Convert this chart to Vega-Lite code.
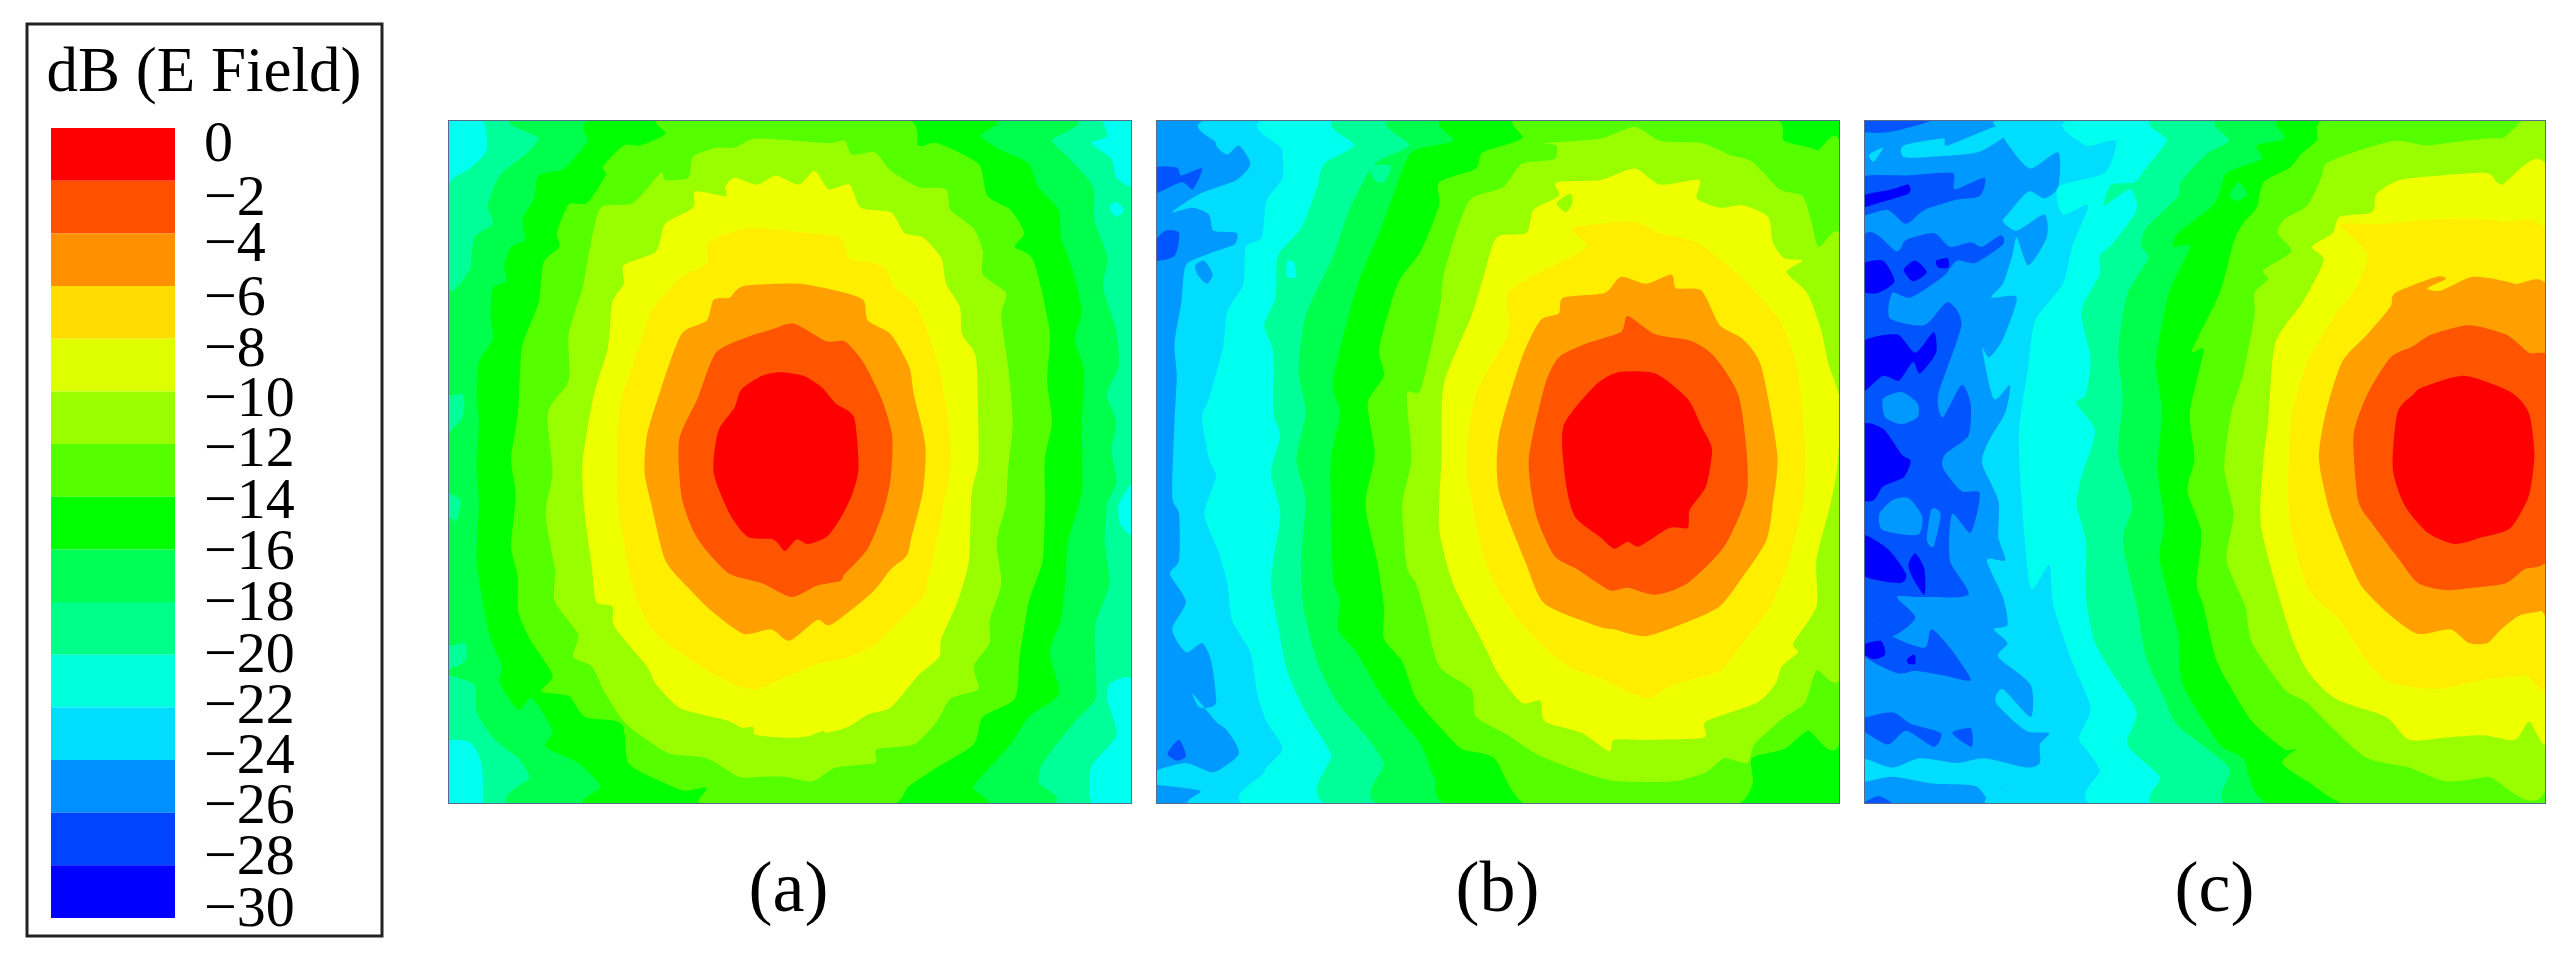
{"$schema":"https://vega.github.io/schema/vega-lite/v6.json","padding":{"left":25,"top":22,"right":0,"bottom":0},"background":"white","spacing":64,"config":{"concat":{"spacing":24},"view":{"stroke":null}},
"datasets":{
"legendBands":[{"b":0,"t":0,"u":-2,"a":24,"c":148},{"b":1,"t":-2,"u":-4,"a":24,"c":148},{"b":2,"t":-4,"u":-6,"a":24,"c":148},{"b":3,"t":-6,"u":-8,"a":24,"c":148},{"b":4,"t":-8,"u":-10,"a":24,"c":148},{"b":5,"t":-10,"u":-12,"a":24,"c":148},{"b":6,"t":-12,"u":-14,"a":24,"c":148},{"b":7,"t":-14,"u":-16,"a":24,"c":148},{"b":8,"t":-16,"u":-18,"a":24,"c":148},{"b":9,"t":-18,"u":-20,"a":24,"c":148},{"b":10,"t":-20,"u":-22,"a":24,"c":148},{"b":11,"t":-22,"u":-24,"a":24,"c":148},{"b":12,"t":-24,"u":-26,"a":24,"c":148},{"b":13,"t":-26,"u":-28,"a":24,"c":148},{"b":14,"t":-28,"u":-30,"a":24,"c":148}],
"legendLabels":[{"s":"0","x":177,"y":-0.62},{"s":"−2","x":177,"y":-2.65},{"s":"−4","x":177,"y":-4.4},{"s":"−6","x":177,"y":-6.45},{"s":"−8","x":177,"y":-8.4},{"s":"−10","x":177,"y":-10.3},{"s":"−12","x":177,"y":-12.2},{"s":"−14","x":177,"y":-14.15},{"s":"−16","x":177,"y":-16.1},{"s":"−18","x":177,"y":-18.05},{"s":"−20","x":177,"y":-20},{"s":"−22","x":177,"y":-21.95},{"s":"−24","x":177,"y":-23.85},{"s":"−26","x":177,"y":-25.75},{"s":"−28","x":177,"y":-27.7},{"s":"−30","x":177,"y":-29.65}],
"a":[
{"l":9,"p":1,"x":40,"y":47},{"l":9,"p":1,"x":1522,"y":47},{"l":9,"p":1,"x":1522,"y":1527},{"l":9,"p":1,"x":40,"y":1527},
{"l":10,"p":2,"x":30,"y":37},{"l":10,"p":2,"x":110,"y":37},{"l":10,"p":2,"x":122,"y":110},{"l":10,"p":2,"x":85,"y":150},{"l":10,"p":2,"x":50,"y":170},{"l":10,"p":2,"x":30,"y":190},
{"l":10,"p":3,"x":1462,"y":37},{"l":10,"p":3,"x":1532,"y":37},{"l":10,"p":3,"x":1532,"y":185},{"l":10,"p":3,"x":1490,"y":170},{"l":10,"p":3,"x":1480,"y":130},{"l":10,"p":3,"x":1435,"y":95},{"l":10,"p":3,"x":1470,"y":80},
{"l":10,"p":4,"x":30,"y":1400},{"l":10,"p":4,"x":85,"y":1395},{"l":10,"p":4,"x":110,"y":1440},{"l":10,"p":4,"x":110,"y":1537},{"l":10,"p":4,"x":30,"y":1537},
{"l":10,"p":5,"x":1480,"y":1265},{"l":10,"p":5,"x":1532,"y":1270},{"l":10,"p":5,"x":1532,"y":1537},{"l":10,"p":5,"x":1440,"y":1537},{"l":10,"p":5,"x":1435,"y":1450},{"l":10,"p":5,"x":1490,"y":1380},{"l":10,"p":5,"x":1470,"y":1300},
{"l":10,"p":6,"x":1530,"y":830},{"l":10,"p":6,"x":1495,"y":880},{"l":10,"p":6,"x":1500,"y":925},{"l":10,"p":6,"x":1530,"y":945},
{"l":10,"p":7,"x":1475,"y":235},{"l":10,"p":7,"x":1490,"y":222},{"l":10,"p":7,"x":1507,"y":240},{"l":10,"p":7,"x":1490,"y":255},
{"l":8,"p":8,"x":225,"y":37},{"l":8,"p":8,"x":235,"y":85},{"l":8,"p":8,"x":205,"y":120},{"l":8,"p":8,"x":150,"y":165},{"l":8,"p":8,"x":125,"y":230},{"l":8,"p":8,"x":135,"y":270},{"l":8,"p":8,"x":95,"y":300},{"l":8,"p":8,"x":85,"y":370},{"l":8,"p":8,"x":50,"y":415},{"l":8,"p":8,"x":30,"y":420},{"l":8,"p":8,"x":30,"y":630},{"l":8,"p":8,"x":70,"y":640},{"l":8,"p":8,"x":70,"y":690},{"l":8,"p":8,"x":30,"y":740},{"l":8,"p":8,"x":30,"y":840},{"l":8,"p":8,"x":65,"y":870},{"l":8,"p":8,"x":55,"y":915},{"l":8,"p":8,"x":30,"y":920},{"l":8,"p":8,"x":30,"y":1170},{"l":8,"p":8,"x":75,"y":1180},{"l":8,"p":8,"x":75,"y":1220},{"l":8,"p":8,"x":30,"y":1245},{"l":8,"p":8,"x":95,"y":1270},{"l":8,"p":8,"x":100,"y":1330},{"l":8,"p":8,"x":140,"y":1390},{"l":8,"p":8,"x":190,"y":1430},{"l":8,"p":8,"x":215,"y":1470},{"l":8,"p":8,"x":220,"y":1537},{"l":8,"p":8,"x":1300,"y":1537},{"l":8,"p":8,"x":1320,"y":1480},{"l":8,"p":8,"x":1330,"y":1440},{"l":8,"p":8,"x":1400,"y":1350},{"l":8,"p":8,"x":1445,"y":1300},{"l":8,"p":8,"x":1445,"y":1230},{"l":8,"p":8,"x":1445,"y":1140},{"l":8,"p":8,"x":1475,"y":1050},{"l":8,"p":8,"x":1465,"y":960},{"l":8,"p":8,"x":1470,"y":880},{"l":8,"p":8,"x":1490,"y":830},{"l":8,"p":8,"x":1480,"y":760},{"l":8,"p":8,"x":1490,"y":700},{"l":8,"p":8,"x":1470,"y":640},{"l":8,"p":8,"x":1495,"y":580},{"l":8,"p":8,"x":1490,"y":500},{"l":8,"p":8,"x":1462,"y":410},{"l":8,"p":8,"x":1470,"y":340},{"l":8,"p":8,"x":1442,"y":260},{"l":8,"p":8,"x":1440,"y":190},{"l":8,"p":8,"x":1390,"y":130},{"l":8,"p":8,"x":1350,"y":90},{"l":8,"p":8,"x":1350,"y":37},
{"l":7,"p":9,"x":390,"y":37},{"l":7,"p":9,"x":340,"y":95},{"l":7,"p":9,"x":290,"y":150},{"l":7,"p":9,"x":235,"y":165},{"l":7,"p":9,"x":225,"y":215},{"l":7,"p":9,"x":200,"y":260},{"l":7,"p":9,"x":205,"y":305},{"l":7,"p":9,"x":175,"y":320},{"l":7,"p":9,"x":160,"y":360},{"l":7,"p":9,"x":165,"y":395},{"l":7,"p":9,"x":135,"y":410},{"l":7,"p":9,"x":130,"y":470},{"l":7,"p":9,"x":135,"y":520},{"l":7,"p":9,"x":105,"y":570},{"l":7,"p":9,"x":100,"y":640},{"l":7,"p":9,"x":105,"y":700},{"l":7,"p":9,"x":100,"y":800},{"l":7,"p":9,"x":105,"y":880},{"l":7,"p":9,"x":100,"y":1000},{"l":7,"p":9,"x":115,"y":1100},{"l":7,"p":9,"x":130,"y":1170},{"l":7,"p":9,"x":155,"y":1230},{"l":7,"p":9,"x":150,"y":1265},{"l":7,"p":9,"x":190,"y":1325},{"l":7,"p":9,"x":220,"y":1300},{"l":7,"p":9,"x":265,"y":1370},{"l":7,"p":9,"x":250,"y":1405},{"l":7,"p":9,"x":320,"y":1440},{"l":7,"p":9,"x":370,"y":1490},{"l":7,"p":9,"x":370,"y":1537},{"l":7,"p":9,"x":1170,"y":1537},{"l":7,"p":9,"x":1180,"y":1490},{"l":7,"p":9,"x":1260,"y":1400},{"l":7,"p":9,"x":1300,"y":1340},{"l":7,"p":9,"x":1365,"y":1290},{"l":7,"p":9,"x":1345,"y":1200},{"l":7,"p":9,"x":1370,"y":1130},{"l":7,"p":9,"x":1380,"y":1040},{"l":7,"p":9,"x":1385,"y":960},{"l":7,"p":9,"x":1415,"y":850},{"l":7,"p":9,"x":1415,"y":700},{"l":7,"p":9,"x":1420,"y":590},{"l":7,"p":9,"x":1400,"y":520},{"l":7,"p":9,"x":1415,"y":460},{"l":7,"p":9,"x":1395,"y":370},{"l":7,"p":9,"x":1370,"y":300},{"l":7,"p":9,"x":1365,"y":240},{"l":7,"p":9,"x":1320,"y":190},{"l":7,"p":9,"x":1300,"y":140},{"l":7,"p":9,"x":1240,"y":110},{"l":7,"p":9,"x":1195,"y":80},{"l":7,"p":9,"x":1190,"y":37},
{"l":6,"p":10,"x":515,"y":37},{"l":6,"p":10,"x":510,"y":75},{"l":6,"p":10,"x":455,"y":100},{"l":6,"p":10,"x":420,"y":100},{"l":6,"p":10,"x":375,"y":145},{"l":6,"p":10,"x":380,"y":165},{"l":6,"p":10,"x":340,"y":225},{"l":6,"p":10,"x":300,"y":228},{"l":6,"p":10,"x":275,"y":290},{"l":6,"p":10,"x":280,"y":320},{"l":6,"p":10,"x":245,"y":355},{"l":6,"p":10,"x":235,"y":440},{"l":6,"p":10,"x":200,"y":530},{"l":6,"p":10,"x":195,"y":580},{"l":6,"p":10,"x":190,"y":680},{"l":6,"p":10,"x":175,"y":780},{"l":6,"p":10,"x":185,"y":860},{"l":6,"p":10,"x":175,"y":970},{"l":6,"p":10,"x":190,"y":1040},{"l":6,"p":10,"x":190,"y":1110},{"l":6,"p":10,"x":215,"y":1170},{"l":6,"p":10,"x":265,"y":1250},{"l":6,"p":10,"x":240,"y":1285},{"l":6,"p":10,"x":300,"y":1295},{"l":6,"p":10,"x":335,"y":1340},{"l":6,"p":10,"x":415,"y":1355},{"l":6,"p":10,"x":430,"y":1440},{"l":6,"p":10,"x":500,"y":1480},{"l":6,"p":10,"x":550,"y":1500},{"l":6,"p":10,"x":600,"y":1495},{"l":6,"p":10,"x":600,"y":1537},{"l":6,"p":10,"x":980,"y":1537},{"l":6,"p":10,"x":1040,"y":1490},{"l":6,"p":10,"x":1100,"y":1450},{"l":6,"p":10,"x":1180,"y":1400},{"l":6,"p":10,"x":1200,"y":1340},{"l":6,"p":10,"x":1270,"y":1300},{"l":6,"p":10,"x":1280,"y":1210},{"l":6,"p":10,"x":1300,"y":1090},{"l":6,"p":10,"x":1330,"y":1000},{"l":6,"p":10,"x":1335,"y":880},{"l":6,"p":10,"x":1335,"y":780},{"l":6,"p":10,"x":1350,"y":700},{"l":6,"p":10,"x":1340,"y":610},{"l":6,"p":10,"x":1345,"y":500},{"l":6,"p":10,"x":1310,"y":350},{"l":6,"p":10,"x":1270,"y":320},{"l":6,"p":10,"x":1290,"y":290},{"l":6,"p":10,"x":1260,"y":240},{"l":6,"p":10,"x":1210,"y":210},{"l":6,"p":10,"x":1190,"y":140},{"l":6,"p":10,"x":1100,"y":95},{"l":6,"p":10,"x":1060,"y":100},{"l":6,"p":10,"x":1015,"y":37},
{"l":5,"p":11,"x":660,"y":105},{"l":5,"p":11,"x":710,"y":85},{"l":5,"p":11,"x":860,"y":95},{"l":5,"p":11,"x":900,"y":90},{"l":5,"p":11,"x":915,"y":120},{"l":5,"p":11,"x":965,"y":115},{"l":5,"p":11,"x":1000,"y":155},{"l":5,"p":11,"x":1060,"y":190},{"l":5,"p":11,"x":1120,"y":195},{"l":5,"p":11,"x":1130,"y":240},{"l":5,"p":11,"x":1180,"y":280},{"l":5,"p":11,"x":1200,"y":330},{"l":5,"p":11,"x":1200,"y":380},{"l":5,"p":11,"x":1250,"y":420},{"l":5,"p":11,"x":1240,"y":470},{"l":5,"p":11,"x":1255,"y":580},{"l":5,"p":11,"x":1265,"y":700},{"l":5,"p":11,"x":1255,"y":800},{"l":5,"p":11,"x":1250,"y":880},{"l":5,"p":11,"x":1230,"y":960},{"l":5,"p":11,"x":1240,"y":1050},{"l":5,"p":11,"x":1215,"y":1130},{"l":5,"p":11,"x":1215,"y":1180},{"l":5,"p":11,"x":1180,"y":1230},{"l":5,"p":11,"x":1190,"y":1280},{"l":5,"p":11,"x":1130,"y":1300},{"l":5,"p":11,"x":1100,"y":1350},{"l":5,"p":11,"x":1050,"y":1400},{"l":5,"p":11,"x":970,"y":1410},{"l":5,"p":11,"x":965,"y":1440},{"l":5,"p":11,"x":880,"y":1450},{"l":5,"p":11,"x":830,"y":1480},{"l":5,"p":11,"x":770,"y":1470},{"l":5,"p":11,"x":720,"y":1470},{"l":5,"p":11,"x":670,"y":1470},{"l":5,"p":11,"x":600,"y":1430},{"l":5,"p":11,"x":520,"y":1420},{"l":5,"p":11,"x":470,"y":1390},{"l":5,"p":11,"x":420,"y":1350},{"l":5,"p":11,"x":380,"y":1290},{"l":5,"p":11,"x":350,"y":1230},{"l":5,"p":11,"x":310,"y":1210},{"l":5,"p":11,"x":320,"y":1160},{"l":5,"p":11,"x":270,"y":1090},{"l":5,"p":11,"x":270,"y":1020},{"l":5,"p":11,"x":250,"y":900},{"l":5,"p":11,"x":265,"y":810},{"l":5,"p":11,"x":255,"y":680},{"l":5,"p":11,"x":300,"y":610},{"l":5,"p":11,"x":300,"y":510},{"l":5,"p":11,"x":330,"y":410},{"l":5,"p":11,"x":345,"y":330},{"l":5,"p":11,"x":370,"y":235},{"l":5,"p":11,"x":440,"y":225},{"l":5,"p":11,"x":500,"y":160},{"l":5,"p":11,"x":510,"y":175},{"l":5,"p":11,"x":560,"y":170},{"l":5,"p":11,"x":570,"y":125},{"l":5,"p":11,"x":620,"y":105},
{"l":4,"p":12,"x":640,"y":190},{"l":4,"p":12,"x":660,"y":170},{"l":4,"p":12,"x":710,"y":185},{"l":4,"p":12,"x":750,"y":165},{"l":4,"p":12,"x":800,"y":185},{"l":4,"p":12,"x":835,"y":155},{"l":4,"p":12,"x":865,"y":195},{"l":4,"p":12,"x":910,"y":185},{"l":4,"p":12,"x":935,"y":235},{"l":4,"p":12,"x":1000,"y":245},{"l":4,"p":12,"x":1030,"y":290},{"l":4,"p":12,"x":1070,"y":300},{"l":4,"p":12,"x":1110,"y":345},{"l":4,"p":12,"x":1120,"y":400},{"l":4,"p":12,"x":1150,"y":450},{"l":4,"p":12,"x":1155,"y":510},{"l":4,"p":12,"x":1185,"y":560},{"l":4,"p":12,"x":1190,"y":700},{"l":4,"p":12,"x":1190,"y":790},{"l":4,"p":12,"x":1175,"y":860},{"l":4,"p":12,"x":1170,"y":1000},{"l":4,"p":12,"x":1145,"y":1090},{"l":4,"p":12,"x":1110,"y":1170},{"l":4,"p":12,"x":1105,"y":1210},{"l":4,"p":12,"x":1060,"y":1250},{"l":4,"p":12,"x":1000,"y":1320},{"l":4,"p":12,"x":950,"y":1335},{"l":4,"p":12,"x":900,"y":1365},{"l":4,"p":12,"x":800,"y":1385},{"l":4,"p":12,"x":710,"y":1380},{"l":4,"p":12,"x":650,"y":1350},{"l":4,"p":12,"x":590,"y":1335},{"l":4,"p":12,"x":540,"y":1320},{"l":4,"p":12,"x":490,"y":1270},{"l":4,"p":12,"x":470,"y":1230},{"l":4,"p":12,"x":400,"y":1145},{"l":4,"p":12,"x":395,"y":1100},{"l":4,"p":12,"x":360,"y":1090},{"l":4,"p":12,"x":350,"y":1010},{"l":4,"p":12,"x":335,"y":900},{"l":4,"p":12,"x":330,"y":790},{"l":4,"p":12,"x":355,"y":640},{"l":4,"p":12,"x":385,"y":540},{"l":4,"p":12,"x":395,"y":440},{"l":4,"p":12,"x":420,"y":400},{"l":4,"p":12,"x":420,"y":360},{"l":4,"p":12,"x":490,"y":330},{"l":4,"p":12,"x":510,"y":270},{"l":4,"p":12,"x":570,"y":235},{"l":4,"p":12,"x":575,"y":200},{"l":4,"p":12,"x":640,"y":210},
{"l":5,"p":13,"x":665,"y":1370},{"l":5,"p":13,"x":700,"y":1362},{"l":5,"p":13,"x":700,"y":1380},{"l":5,"p":13,"x":680,"y":1395},
{"l":5,"p":14,"x":820,"y":1385},{"l":5,"p":14,"x":855,"y":1370},{"l":5,"p":14,"x":850,"y":1392},
{"l":3,"p":15,"x":605,"y":310},{"l":3,"p":15,"x":690,"y":280},{"l":3,"p":15,"x":820,"y":290},{"l":3,"p":15,"x":890,"y":300},{"l":3,"p":15,"x":910,"y":345},{"l":3,"p":15,"x":960,"y":355},{"l":3,"p":15,"x":990,"y":370},{"l":3,"p":15,"x":1010,"y":410},{"l":3,"p":15,"x":1050,"y":440},{"l":3,"p":15,"x":1075,"y":490},{"l":3,"p":15,"x":1105,"y":580},{"l":3,"p":15,"x":1125,"y":700},{"l":3,"p":15,"x":1130,"y":790},{"l":3,"p":15,"x":1115,"y":880},{"l":3,"p":15,"x":1090,"y":1000},{"l":3,"p":15,"x":1070,"y":1080},{"l":3,"p":15,"x":1040,"y":1110},{"l":3,"p":15,"x":970,"y":1180},{"l":3,"p":15,"x":910,"y":1210},{"l":3,"p":15,"x":840,"y":1225},{"l":3,"p":15,"x":780,"y":1250},{"l":3,"p":15,"x":700,"y":1280},{"l":3,"p":15,"x":620,"y":1250},{"l":3,"p":15,"x":530,"y":1190},{"l":3,"p":15,"x":480,"y":1150},{"l":3,"p":15,"x":440,"y":1060},{"l":3,"p":15,"x":410,"y":900},{"l":3,"p":15,"x":405,"y":780},{"l":3,"p":15,"x":415,"y":650},{"l":3,"p":15,"x":460,"y":520},{"l":3,"p":15,"x":480,"y":460},{"l":3,"p":15,"x":540,"y":390},{"l":3,"p":15,"x":600,"y":355},
{"l":2,"p":16,"x":680,"y":405},{"l":2,"p":16,"x":800,"y":400},{"l":2,"p":16,"x":880,"y":415},{"l":2,"p":16,"x":940,"y":435},{"l":2,"p":16,"x":950,"y":480},{"l":2,"p":16,"x":1000,"y":510},{"l":2,"p":16,"x":1040,"y":580},{"l":2,"p":16,"x":1050,"y":640},{"l":2,"p":16,"x":1075,"y":750},{"l":2,"p":16,"x":1070,"y":850},{"l":2,"p":16,"x":1045,"y":950},{"l":2,"p":16,"x":1035,"y":990},{"l":2,"p":16,"x":1000,"y":1020},{"l":2,"p":16,"x":960,"y":1070},{"l":2,"p":16,"x":870,"y":1140},{"l":2,"p":16,"x":840,"y":1130},{"l":2,"p":16,"x":780,"y":1175},{"l":2,"p":16,"x":740,"y":1150},{"l":2,"p":16,"x":680,"y":1160},{"l":2,"p":16,"x":610,"y":1110},{"l":2,"p":16,"x":560,"y":1060},{"l":2,"p":16,"x":510,"y":1000},{"l":2,"p":16,"x":480,"y":880},{"l":2,"p":16,"x":465,"y":810},{"l":2,"p":16,"x":470,"y":730},{"l":2,"p":16,"x":500,"y":630},{"l":2,"p":16,"x":545,"y":510},{"l":2,"p":16,"x":600,"y":480},{"l":2,"p":16,"x":615,"y":435},{"l":2,"p":16,"x":650,"y":430},
{"l":1,"p":17,"x":790,"y":487},{"l":1,"p":17,"x":860,"y":525},{"l":1,"p":17,"x":900,"y":525},{"l":1,"p":17,"x":940,"y":570},{"l":1,"p":17,"x":980,"y":650},{"l":1,"p":17,"x":1003,"y":730},{"l":1,"p":17,"x":1000,"y":820},{"l":1,"p":17,"x":985,"y":890},{"l":1,"p":17,"x":950,"y":975},{"l":1,"p":17,"x":900,"y":1030},{"l":1,"p":17,"x":890,"y":1045},{"l":1,"p":17,"x":840,"y":1055},{"l":1,"p":17,"x":785,"y":1080},{"l":1,"p":17,"x":720,"y":1050},{"l":1,"p":17,"x":650,"y":1030},{"l":1,"p":17,"x":600,"y":980},{"l":1,"p":17,"x":570,"y":935},{"l":1,"p":17,"x":545,"y":860},{"l":1,"p":17,"x":540,"y":740},{"l":1,"p":17,"x":580,"y":650},{"l":1,"p":17,"x":620,"y":550},{"l":1,"p":17,"x":690,"y":515},{"l":1,"p":17,"x":740,"y":500},
{"l":0,"p":18,"x":760,"y":592},{"l":0,"p":18,"x":810,"y":600},{"l":0,"p":18,"x":850,"y":625},{"l":0,"p":18,"x":880,"y":660},{"l":0,"p":18,"x":920,"y":690},{"l":0,"p":18,"x":930,"y":800},{"l":0,"p":18,"x":915,"y":860},{"l":0,"p":18,"x":890,"y":910},{"l":0,"p":18,"x":860,"y":950},{"l":0,"p":18,"x":820,"y":965},{"l":0,"p":18,"x":795,"y":955},{"l":0,"p":18,"x":770,"y":980},{"l":0,"p":18,"x":745,"y":955},{"l":0,"p":18,"x":690,"y":950},{"l":0,"p":18,"x":650,"y":900},{"l":0,"p":18,"x":615,"y":810},{"l":0,"p":18,"x":625,"y":720},{"l":0,"p":18,"x":660,"y":670},{"l":0,"p":18,"x":675,"y":630},{"l":0,"p":18,"x":720,"y":600}
],
"b":[
{"l":12,"p":1,"x":20,"y":30},{"l":12,"p":1,"x":1540,"y":30},{"l":12,"p":1,"x":1540,"y":1545},{"l":12,"p":1,"x":20,"y":1545},
{"l":13,"p":2,"x":27,"y":150},{"l":13,"p":2,"x":80,"y":148},{"l":13,"p":2,"x":90,"y":165},{"l":13,"p":2,"x":135,"y":150},{"l":13,"p":2,"x":115,"y":195},{"l":13,"p":2,"x":90,"y":180},{"l":13,"p":2,"x":27,"y":205},
{"l":13,"p":3,"x":27,"y":315},{"l":13,"p":3,"x":55,"y":285},{"l":13,"p":3,"x":85,"y":290},{"l":13,"p":3,"x":75,"y":340},{"l":13,"p":3,"x":27,"y":350},
{"l":13,"p":4,"x":60,"y":1420},{"l":13,"p":4,"x":85,"y":1390},{"l":13,"p":4,"x":100,"y":1425},{"l":13,"p":4,"x":80,"y":1435},
{"l":11,"p":5,"x":210,"y":37},{"l":11,"p":5,"x":165,"y":95},{"l":11,"p":5,"x":190,"y":120},{"l":11,"p":5,"x":215,"y":100},{"l":11,"p":5,"x":240,"y":140},{"l":11,"p":5,"x":210,"y":175},{"l":11,"p":5,"x":130,"y":205},{"l":11,"p":5,"x":70,"y":245},{"l":11,"p":5,"x":115,"y":235},{"l":11,"p":5,"x":150,"y":250},{"l":11,"p":5,"x":160,"y":285},{"l":11,"p":5,"x":210,"y":290},{"l":11,"p":5,"x":205,"y":315},{"l":11,"p":5,"x":150,"y":335},{"l":11,"p":5,"x":100,"y":360},{"l":11,"p":5,"x":90,"y":440},{"l":11,"p":5,"x":75,"y":530},{"l":11,"p":5,"x":80,"y":600},{"l":11,"p":5,"x":75,"y":700},{"l":11,"p":5,"x":70,"y":860},{"l":11,"p":5,"x":85,"y":900},{"l":11,"p":5,"x":85,"y":1000},{"l":11,"p":5,"x":65,"y":1030},{"l":11,"p":5,"x":100,"y":1090},{"l":11,"p":5,"x":70,"y":1150},{"l":11,"p":5,"x":100,"y":1200},{"l":11,"p":5,"x":135,"y":1180},{"l":11,"p":5,"x":155,"y":1220},{"l":11,"p":5,"x":165,"y":1310},{"l":11,"p":5,"x":130,"y":1320},{"l":11,"p":5,"x":115,"y":1290},{"l":11,"p":5,"x":165,"y":1350},{"l":11,"p":5,"x":190,"y":1370},{"l":11,"p":5,"x":215,"y":1420},{"l":11,"p":5,"x":160,"y":1460},{"l":11,"p":5,"x":100,"y":1440},{"l":11,"p":5,"x":27,"y":1460},{"l":11,"p":5,"x":27,"y":1485},{"l":11,"p":5,"x":130,"y":1500},{"l":11,"p":5,"x":190,"y":1540},{"l":11,"p":5,"x":1540,"y":1540},{"l":11,"p":5,"x":1540,"y":37},
{"l":12,"p":6,"x":120,"y":360},{"l":12,"p":6,"x":140,"y":350},{"l":12,"p":6,"x":158,"y":380},{"l":12,"p":6,"x":145,"y":400},{"l":12,"p":6,"x":125,"y":380},
{"l":10,"p":7,"x":320,"y":37},{"l":10,"p":7,"x":310,"y":110},{"l":10,"p":7,"x":310,"y":170},{"l":10,"p":7,"x":275,"y":220},{"l":10,"p":7,"x":265,"y":300},{"l":10,"p":7,"x":230,"y":320},{"l":10,"p":7,"x":225,"y":400},{"l":10,"p":7,"x":190,"y":460},{"l":10,"p":7,"x":180,"y":540},{"l":10,"p":7,"x":150,"y":650},{"l":10,"p":7,"x":135,"y":690},{"l":10,"p":7,"x":150,"y":780},{"l":10,"p":7,"x":165,"y":820},{"l":10,"p":7,"x":140,"y":900},{"l":10,"p":7,"x":170,"y":980},{"l":10,"p":7,"x":190,"y":1050},{"l":10,"p":7,"x":200,"y":1130},{"l":10,"p":7,"x":240,"y":1200},{"l":10,"p":7,"x":255,"y":1290},{"l":10,"p":7,"x":275,"y":1350},{"l":10,"p":7,"x":310,"y":1410},{"l":10,"p":7,"x":270,"y":1460},{"l":10,"p":7,"x":285,"y":1540},{"l":10,"p":7,"x":1540,"y":1540},{"l":10,"p":7,"x":1540,"y":37},
{"l":9,"p":8,"x":470,"y":37},{"l":9,"p":8,"x":465,"y":100},{"l":9,"p":8,"x":400,"y":140},{"l":9,"p":8,"x":385,"y":190},{"l":9,"p":8,"x":350,"y":280},{"l":9,"p":8,"x":300,"y":340},{"l":9,"p":8,"x":295,"y":430},{"l":9,"p":8,"x":270,"y":490},{"l":9,"p":8,"x":290,"y":550},{"l":9,"p":8,"x":290,"y":680},{"l":9,"p":8,"x":305,"y":730},{"l":9,"p":8,"x":285,"y":810},{"l":9,"p":8,"x":305,"y":900},{"l":9,"p":8,"x":290,"y":1000},{"l":9,"p":8,"x":285,"y":1060},{"l":9,"p":8,"x":300,"y":1140},{"l":9,"p":8,"x":320,"y":1240},{"l":9,"p":8,"x":360,"y":1330},{"l":9,"p":8,"x":415,"y":1420},{"l":9,"p":8,"x":450,"y":1540},{"l":9,"p":8,"x":1540,"y":1540},{"l":9,"p":8,"x":1540,"y":37},
{"l":10,"p":9,"x":320,"y":350},{"l":10,"p":9,"x":335,"y":355},{"l":10,"p":9,"x":340,"y":385},{"l":10,"p":9,"x":318,"y":385},
{"l":8,"p":10,"x":580,"y":37},{"l":8,"p":10,"x":585,"y":100},{"l":8,"p":10,"x":510,"y":140},{"l":8,"p":10,"x":455,"y":240},{"l":8,"p":10,"x":420,"y":340},{"l":8,"p":10,"x":360,"y":470},{"l":8,"p":10,"x":345,"y":590},{"l":8,"p":10,"x":360,"y":680},{"l":8,"p":10,"x":340,"y":780},{"l":8,"p":10,"x":360,"y":870},{"l":8,"p":10,"x":350,"y":1000},{"l":8,"p":10,"x":355,"y":1100},{"l":8,"p":10,"x":385,"y":1220},{"l":8,"p":10,"x":430,"y":1310},{"l":8,"p":10,"x":490,"y":1380},{"l":8,"p":10,"x":530,"y":1440},{"l":8,"p":10,"x":560,"y":1540},{"l":8,"p":10,"x":1540,"y":1540},{"l":8,"p":10,"x":1540,"y":37},
{"l":9,"p":11,"x":500,"y":145},{"l":9,"p":11,"x":545,"y":145},{"l":9,"p":11,"x":530,"y":180},{"l":9,"p":11,"x":510,"y":175},
{"l":7,"p":12,"x":690,"y":37},{"l":7,"p":12,"x":680,"y":90},{"l":7,"p":12,"x":590,"y":115},{"l":7,"p":12,"x":550,"y":210},{"l":7,"p":12,"x":520,"y":290},{"l":7,"p":12,"x":470,"y":410},{"l":7,"p":12,"x":420,"y":610},{"l":7,"p":12,"x":435,"y":680},{"l":7,"p":12,"x":415,"y":780},{"l":7,"p":12,"x":415,"y":900},{"l":7,"p":12,"x":420,"y":1040},{"l":7,"p":12,"x":435,"y":1090},{"l":7,"p":12,"x":430,"y":1150},{"l":7,"p":12,"x":470,"y":1200},{"l":7,"p":12,"x":530,"y":1300},{"l":7,"p":12,"x":610,"y":1400},{"l":7,"p":12,"x":640,"y":1470},{"l":7,"p":12,"x":710,"y":1540},{"l":7,"p":12,"x":1445,"y":1540},{"l":7,"p":12,"x":1530,"y":1465},{"l":7,"p":12,"x":1530,"y":100},{"l":7,"p":12,"x":1470,"y":37},
{"l":6,"p":13,"x":835,"y":37},{"l":6,"p":13,"x":830,"y":85},{"l":6,"p":13,"x":745,"y":115},{"l":6,"p":13,"x":730,"y":150},{"l":6,"p":13,"x":650,"y":180},{"l":6,"p":13,"x":650,"y":230},{"l":6,"p":13,"x":610,"y":330},{"l":6,"p":13,"x":560,"y":400},{"l":6,"p":13,"x":520,"y":540},{"l":6,"p":13,"x":530,"y":600},{"l":6,"p":13,"x":495,"y":660},{"l":6,"p":13,"x":510,"y":770},{"l":6,"p":13,"x":490,"y":880},{"l":6,"p":13,"x":515,"y":1000},{"l":6,"p":13,"x":530,"y":1100},{"l":6,"p":13,"x":530,"y":1170},{"l":6,"p":13,"x":570,"y":1220},{"l":6,"p":13,"x":600,"y":1300},{"l":6,"p":13,"x":650,"y":1360},{"l":6,"p":13,"x":700,"y":1410},{"l":6,"p":13,"x":770,"y":1430},{"l":6,"p":13,"x":860,"y":1540},{"l":6,"p":13,"x":1265,"y":1540},{"l":6,"p":13,"x":1330,"y":1490},{"l":6,"p":13,"x":1330,"y":1430},{"l":6,"p":13,"x":1400,"y":1410},{"l":6,"p":13,"x":1450,"y":1370},{"l":6,"p":13,"x":1530,"y":1345},{"l":6,"p":13,"x":1530,"y":155},{"l":6,"p":13,"x":1470,"y":110},{"l":6,"p":13,"x":1400,"y":90},{"l":6,"p":13,"x":1355,"y":37},
{"l":5,"p":14,"x":880,"y":95},{"l":5,"p":14,"x":1000,"y":85},{"l":5,"p":14,"x":1075,"y":60},{"l":5,"p":14,"x":1130,"y":90},{"l":5,"p":14,"x":1220,"y":95},{"l":5,"p":14,"x":1280,"y":120},{"l":5,"p":14,"x":1330,"y":135},{"l":5,"p":14,"x":1390,"y":195},{"l":5,"p":14,"x":1440,"y":210},{"l":5,"p":14,"x":1460,"y":270},{"l":5,"p":14,"x":1475,"y":320},{"l":5,"p":14,"x":1530,"y":335},{"l":5,"p":14,"x":1530,"y":1215},{"l":5,"p":14,"x":1470,"y":1240},{"l":5,"p":14,"x":1445,"y":1310},{"l":5,"p":14,"x":1395,"y":1345},{"l":5,"p":14,"x":1335,"y":1400},{"l":5,"p":14,"x":1320,"y":1440},{"l":5,"p":14,"x":1270,"y":1430},{"l":5,"p":14,"x":1230,"y":1460},{"l":5,"p":14,"x":1160,"y":1480},{"l":5,"p":14,"x":1040,"y":1480},{"l":5,"p":14,"x":960,"y":1460},{"l":5,"p":14,"x":860,"y":1420},{"l":5,"p":14,"x":800,"y":1380},{"l":5,"p":14,"x":730,"y":1340},{"l":5,"p":14,"x":720,"y":1280},{"l":5,"p":14,"x":650,"y":1230},{"l":5,"p":14,"x":620,"y":1120},{"l":5,"p":14,"x":600,"y":1050},{"l":5,"p":14,"x":580,"y":1015},{"l":5,"p":14,"x":570,"y":880},{"l":5,"p":14,"x":590,"y":780},{"l":5,"p":14,"x":580,"y":640},{"l":5,"p":14,"x":610,"y":630},{"l":5,"p":14,"x":650,"y":460},{"l":5,"p":14,"x":660,"y":380},{"l":5,"p":14,"x":690,"y":280},{"l":5,"p":14,"x":720,"y":215},{"l":5,"p":14,"x":790,"y":190},{"l":5,"p":14,"x":830,"y":140},{"l":5,"p":14,"x":900,"y":130},{"l":5,"p":14,"x":905,"y":100},
{"l":4,"p":15,"x":905,"y":180},{"l":4,"p":15,"x":1000,"y":175},{"l":4,"p":15,"x":1075,"y":150},{"l":4,"p":15,"x":1130,"y":185},{"l":4,"p":15,"x":1215,"y":175},{"l":4,"p":15,"x":1210,"y":215},{"l":4,"p":15,"x":1260,"y":235},{"l":4,"p":15,"x":1310,"y":230},{"l":4,"p":15,"x":1365,"y":255},{"l":4,"p":15,"x":1375,"y":310},{"l":4,"p":15,"x":1400,"y":345},{"l":4,"p":15,"x":1440,"y":350},{"l":4,"p":15,"x":1405,"y":375},{"l":4,"p":15,"x":1450,"y":420},{"l":4,"p":15,"x":1480,"y":500},{"l":4,"p":15,"x":1495,"y":570},{"l":4,"p":15,"x":1522,"y":660},{"l":4,"p":15,"x":1515,"y":800},{"l":4,"p":15,"x":1500,"y":880},{"l":4,"p":15,"x":1470,"y":1000},{"l":4,"p":15,"x":1470,"y":1100},{"l":4,"p":15,"x":1420,"y":1180},{"l":4,"p":15,"x":1430,"y":1200},{"l":4,"p":15,"x":1395,"y":1230},{"l":4,"p":15,"x":1380,"y":1270},{"l":4,"p":15,"x":1340,"y":1310},{"l":4,"p":15,"x":1230,"y":1350},{"l":4,"p":15,"x":1225,"y":1385},{"l":4,"p":15,"x":1100,"y":1390},{"l":4,"p":15,"x":1030,"y":1390},{"l":4,"p":15,"x":1020,"y":1415},{"l":4,"p":15,"x":960,"y":1375},{"l":4,"p":15,"x":880,"y":1350},{"l":4,"p":15,"x":870,"y":1305},{"l":4,"p":15,"x":830,"y":1310},{"l":4,"p":15,"x":780,"y":1250},{"l":4,"p":15,"x":755,"y":1200},{"l":4,"p":15,"x":730,"y":1150},{"l":4,"p":15,"x":680,"y":1050},{"l":4,"p":15,"x":650,"y":930},{"l":4,"p":15,"x":655,"y":780},{"l":4,"p":15,"x":660,"y":620},{"l":4,"p":15,"x":720,"y":470},{"l":4,"p":15,"x":745,"y":390},{"l":4,"p":15,"x":775,"y":300},{"l":4,"p":15,"x":840,"y":290},{"l":4,"p":15,"x":855,"y":240},{"l":4,"p":15,"x":910,"y":210},
{"l":5,"p":16,"x":905,"y":225},{"l":5,"p":16,"x":935,"y":205},{"l":5,"p":16,"x":940,"y":225},{"l":5,"p":16,"x":925,"y":245},
{"l":3,"p":17,"x":940,"y":280},{"l":3,"p":17,"x":1070,"y":265},{"l":3,"p":17,"x":1130,"y":290},{"l":3,"p":17,"x":1210,"y":310},{"l":3,"p":17,"x":1270,"y":355},{"l":3,"p":17,"x":1310,"y":390},{"l":3,"p":17,"x":1390,"y":480},{"l":3,"p":17,"x":1430,"y":590},{"l":3,"p":17,"x":1445,"y":760},{"l":3,"p":17,"x":1440,"y":880},{"l":3,"p":17,"x":1410,"y":1000},{"l":3,"p":17,"x":1370,"y":1100},{"l":3,"p":17,"x":1310,"y":1180},{"l":3,"p":17,"x":1260,"y":1240},{"l":3,"p":17,"x":1160,"y":1270},{"l":3,"p":17,"x":1100,"y":1300},{"l":3,"p":17,"x":1010,"y":1260},{"l":3,"p":17,"x":930,"y":1230},{"l":3,"p":17,"x":860,"y":1170},{"l":3,"p":17,"x":800,"y":1100},{"l":3,"p":17,"x":750,"y":1000},{"l":3,"p":17,"x":710,"y":800},{"l":3,"p":17,"x":730,"y":640},{"l":3,"p":17,"x":800,"y":510},{"l":3,"p":17,"x":800,"y":420},{"l":3,"p":17,"x":880,"y":370},{"l":3,"p":17,"x":970,"y":320},
{"l":2,"p":18,"x":920,"y":430},{"l":2,"p":18,"x":1010,"y":420},{"l":2,"p":18,"x":1045,"y":385},{"l":2,"p":18,"x":1100,"y":400},{"l":2,"p":18,"x":1155,"y":380},{"l":2,"p":18,"x":1165,"y":410},{"l":2,"p":18,"x":1220,"y":415},{"l":2,"p":18,"x":1260,"y":490},{"l":2,"p":18,"x":1310,"y":520},{"l":2,"p":18,"x":1350,"y":580},{"l":2,"p":18,"x":1385,"y":770},{"l":2,"p":18,"x":1375,"y":880},{"l":2,"p":18,"x":1360,"y":960},{"l":2,"p":18,"x":1300,"y":1050},{"l":2,"p":18,"x":1260,"y":1100},{"l":2,"p":18,"x":1200,"y":1130},{"l":2,"p":18,"x":1100,"y":1165},{"l":2,"p":18,"x":1030,"y":1150},{"l":2,"p":18,"x":1000,"y":1145},{"l":2,"p":18,"x":880,"y":1095},{"l":2,"p":18,"x":840,"y":1010},{"l":2,"p":18,"x":780,"y":850},{"l":2,"p":18,"x":780,"y":730},{"l":2,"p":18,"x":830,"y":560},{"l":2,"p":18,"x":870,"y":480},{"l":2,"p":18,"x":910,"y":465},
{"l":1,"p":19,"x":1060,"y":470},{"l":1,"p":19,"x":1120,"y":510},{"l":1,"p":19,"x":1200,"y":525},{"l":1,"p":19,"x":1250,"y":560},{"l":1,"p":19,"x":1300,"y":640},{"l":1,"p":19,"x":1318,"y":760},{"l":1,"p":19,"x":1318,"y":860},{"l":1,"p":19,"x":1270,"y":970},{"l":1,"p":19,"x":1190,"y":1050},{"l":1,"p":19,"x":1120,"y":1075},{"l":1,"p":19,"x":1060,"y":1060},{"l":1,"p":19,"x":1020,"y":1065},{"l":1,"p":19,"x":950,"y":1020},{"l":1,"p":19,"x":900,"y":990},{"l":1,"p":19,"x":860,"y":900},{"l":1,"p":19,"x":845,"y":780},{"l":1,"p":19,"x":880,"y":620},{"l":1,"p":19,"x":910,"y":560},{"l":1,"p":19,"x":970,"y":530},{"l":1,"p":19,"x":1045,"y":505},
{"l":0,"p":20,"x":1040,"y":592},{"l":0,"p":20,"x":1120,"y":595},{"l":0,"p":20,"x":1190,"y":650},{"l":0,"p":20,"x":1220,"y":710},{"l":0,"p":20,"x":1243,"y":760},{"l":0,"p":20,"x":1230,"y":840},{"l":0,"p":20,"x":1195,"y":890},{"l":0,"p":20,"x":1190,"y":930},{"l":0,"p":20,"x":1150,"y":930},{"l":0,"p":20,"x":1085,"y":970},{"l":0,"p":20,"x":1060,"y":960},{"l":0,"p":20,"x":1030,"y":975},{"l":0,"p":20,"x":1000,"y":950},{"l":0,"p":20,"x":945,"y":905},{"l":0,"p":20,"x":925,"y":830},{"l":0,"p":20,"x":920,"y":710},{"l":0,"p":20,"x":990,"y":620}
],
"c":[
{"l":12,"p":1,"x":20,"y":30},{"l":12,"p":1,"x":1540,"y":30},{"l":12,"p":1,"x":1540,"y":1545},{"l":12,"p":1,"x":20,"y":1545},
{"l":13,"p":2,"x":31,"y":37},{"l":13,"p":2,"x":205,"y":37},{"l":13,"p":2,"x":100,"y":70},{"l":13,"p":2,"x":31,"y":70},
{"l":13,"p":3,"x":31,"y":170},{"l":13,"p":3,"x":130,"y":165},{"l":13,"p":3,"x":230,"y":160},{"l":13,"p":3,"x":235,"y":195},{"l":13,"p":3,"x":300,"y":170},{"l":13,"p":3,"x":290,"y":210},{"l":13,"p":3,"x":240,"y":218},{"l":13,"p":3,"x":170,"y":240},{"l":13,"p":3,"x":130,"y":270},{"l":13,"p":3,"x":90,"y":240},{"l":13,"p":3,"x":31,"y":250},
{"l":13,"p":4,"x":31,"y":325},{"l":13,"p":4,"x":110,"y":330},{"l":13,"p":4,"x":130,"y":305},{"l":13,"p":4,"x":190,"y":290},{"l":13,"p":4,"x":225,"y":320},{"l":13,"p":4,"x":270,"y":310},{"l":13,"p":4,"x":295,"y":320},{"l":13,"p":4,"x":335,"y":295},{"l":13,"p":4,"x":340,"y":315},{"l":13,"p":4,"x":280,"y":355},{"l":13,"p":4,"x":240,"y":350},{"l":13,"p":4,"x":210,"y":385},{"l":13,"p":4,"x":140,"y":430},{"l":13,"p":4,"x":100,"y":420},{"l":13,"p":4,"x":95,"y":475},{"l":13,"p":4,"x":170,"y":490},{"l":13,"p":4,"x":220,"y":440},{"l":13,"p":4,"x":250,"y":490},{"l":13,"p":4,"x":200,"y":640},{"l":13,"p":4,"x":210,"y":690},{"l":13,"p":4,"x":250,"y":620},{"l":13,"p":4,"x":270,"y":660},{"l":13,"p":4,"x":265,"y":730},{"l":13,"p":4,"x":215,"y":770},{"l":13,"p":4,"x":210,"y":800},{"l":13,"p":4,"x":250,"y":850},{"l":13,"p":4,"x":290,"y":855},{"l":13,"p":4,"x":270,"y":940},{"l":13,"p":4,"x":230,"y":900},{"l":13,"p":4,"x":225,"y":1000},{"l":13,"p":4,"x":265,"y":1075},{"l":13,"p":4,"x":160,"y":1080},{"l":13,"p":4,"x":110,"y":1080},{"l":13,"p":4,"x":150,"y":1125},{"l":13,"p":4,"x":100,"y":1165},{"l":13,"p":4,"x":60,"y":1130},{"l":13,"p":4,"x":31,"y":1075},
{"l":13,"p":5,"x":31,"y":1110},{"l":13,"p":5,"x":100,"y":1165},{"l":13,"p":5,"x":170,"y":1190},{"l":13,"p":5,"x":185,"y":1150},{"l":13,"p":5,"x":225,"y":1190},{"l":13,"p":5,"x":270,"y":1260},{"l":13,"p":5,"x":210,"y":1250},{"l":13,"p":5,"x":150,"y":1240},{"l":13,"p":5,"x":110,"y":1245},{"l":13,"p":5,"x":31,"y":1200},
{"l":13,"p":6,"x":31,"y":1345},{"l":13,"p":6,"x":100,"y":1330},{"l":13,"p":6,"x":140,"y":1355},{"l":13,"p":6,"x":205,"y":1375},{"l":13,"p":6,"x":190,"y":1405},{"l":13,"p":6,"x":130,"y":1370},{"l":13,"p":6,"x":90,"y":1400},{"l":13,"p":6,"x":31,"y":1365},
{"l":13,"p":7,"x":230,"y":1375},{"l":13,"p":7,"x":270,"y":1365},{"l":13,"p":7,"x":272,"y":1405},
{"l":13,"p":8,"x":31,"y":1535},{"l":13,"p":8,"x":70,"y":1512},{"l":13,"p":8,"x":105,"y":1535},
{"l":14,"p":9,"x":31,"y":210},{"l":14,"p":9,"x":100,"y":195},{"l":14,"p":9,"x":135,"y":185},{"l":14,"p":9,"x":135,"y":205},{"l":14,"p":9,"x":70,"y":225},{"l":14,"p":9,"x":31,"y":235},
{"l":14,"p":10,"x":31,"y":360},{"l":14,"p":10,"x":80,"y":350},{"l":14,"p":10,"x":105,"y":395},{"l":14,"p":10,"x":70,"y":420},{"l":14,"p":10,"x":31,"y":415},
{"l":14,"p":11,"x":125,"y":370},{"l":14,"p":11,"x":150,"y":350},{"l":14,"p":11,"x":175,"y":375},{"l":14,"p":11,"x":145,"y":395},
{"l":14,"p":12,"x":195,"y":350},{"l":14,"p":12,"x":220,"y":345},{"l":14,"p":12,"x":222,"y":365},{"l":14,"p":12,"x":200,"y":365},
{"l":14,"p":13,"x":31,"y":530},{"l":14,"p":13,"x":110,"y":510},{"l":14,"p":13,"x":150,"y":550},{"l":14,"p":13,"x":190,"y":505},{"l":14,"p":13,"x":195,"y":550},{"l":14,"p":13,"x":160,"y":595},{"l":14,"p":13,"x":145,"y":570},{"l":14,"p":13,"x":115,"y":610},{"l":14,"p":13,"x":80,"y":600},{"l":14,"p":13,"x":31,"y":635},
{"l":14,"p":14,"x":31,"y":710},{"l":14,"p":14,"x":80,"y":715},{"l":14,"p":14,"x":120,"y":770},{"l":14,"p":14,"x":140,"y":785},{"l":14,"p":14,"x":125,"y":820},{"l":14,"p":14,"x":80,"y":840},{"l":14,"p":14,"x":60,"y":870},{"l":14,"p":14,"x":31,"y":860},
{"l":14,"p":15,"x":31,"y":945},{"l":14,"p":15,"x":90,"y":975},{"l":14,"p":15,"x":130,"y":1030},{"l":14,"p":15,"x":115,"y":1050},{"l":14,"p":15,"x":31,"y":1030},
{"l":14,"p":16,"x":135,"y":1010},{"l":14,"p":16,"x":150,"y":985},{"l":14,"p":16,"x":170,"y":1020},{"l":14,"p":16,"x":170,"y":1075},{"l":14,"p":16,"x":145,"y":1040},
{"l":14,"p":17,"x":31,"y":1185},{"l":14,"p":17,"x":75,"y":1175},{"l":14,"p":17,"x":85,"y":1205},{"l":14,"p":17,"x":60,"y":1215},{"l":14,"p":17,"x":31,"y":1200},
{"l":14,"p":18,"x":132,"y":1215},{"l":14,"p":18,"x":148,"y":1205},{"l":14,"p":18,"x":150,"y":1225},{"l":14,"p":18,"x":135,"y":1225},
{"l":12,"p":19,"x":80,"y":650},{"l":12,"p":19,"x":120,"y":635},{"l":12,"p":19,"x":155,"y":660},{"l":12,"p":19,"x":155,"y":690},{"l":12,"p":19,"x":120,"y":705},{"l":12,"p":19,"x":85,"y":690},
{"l":12,"p":20,"x":72,"y":900},{"l":12,"p":20,"x":100,"y":870},{"l":12,"p":20,"x":135,"y":865},{"l":12,"p":20,"x":165,"y":905},{"l":12,"p":20,"x":155,"y":945},{"l":12,"p":20,"x":80,"y":935},
{"l":12,"p":21,"x":175,"y":955},{"l":12,"p":21,"x":185,"y":890},{"l":12,"p":21,"x":205,"y":900},{"l":12,"p":21,"x":190,"y":970},
{"l":11,"p":22,"x":400,"y":37},{"l":11,"p":22,"x":340,"y":70},{"l":11,"p":22,"x":360,"y":110},{"l":11,"p":22,"x":400,"y":150},{"l":11,"p":22,"x":460,"y":115},{"l":11,"p":22,"x":460,"y":190},{"l":11,"p":22,"x":430,"y":215},{"l":11,"p":22,"x":395,"y":200},{"l":11,"p":22,"x":350,"y":250},{"l":11,"p":22,"x":340,"y":265},{"l":11,"p":22,"x":370,"y":285},{"l":11,"p":22,"x":430,"y":250},{"l":11,"p":22,"x":435,"y":300},{"l":11,"p":22,"x":395,"y":360},{"l":11,"p":22,"x":370,"y":300},{"l":11,"p":22,"x":360,"y":340},{"l":11,"p":22,"x":340,"y":400},{"l":11,"p":22,"x":315,"y":430},{"l":11,"p":22,"x":370,"y":430},{"l":11,"p":22,"x":340,"y":520},{"l":11,"p":22,"x":310,"y":560},{"l":11,"p":22,"x":295,"y":540},{"l":11,"p":22,"x":320,"y":650},{"l":11,"p":22,"x":355,"y":620},{"l":11,"p":22,"x":345,"y":680},{"l":11,"p":22,"x":310,"y":740},{"l":11,"p":22,"x":295,"y":790},{"l":11,"p":22,"x":330,"y":870},{"l":11,"p":22,"x":330,"y":950},{"l":11,"p":22,"x":345,"y":1000},{"l":11,"p":22,"x":305,"y":1000},{"l":11,"p":22,"x":340,"y":1080},{"l":11,"p":22,"x":350,"y":1140},{"l":11,"p":22,"x":320,"y":1150},{"l":11,"p":22,"x":350,"y":1180},{"l":11,"p":22,"x":330,"y":1210},{"l":11,"p":22,"x":400,"y":1270},{"l":11,"p":22,"x":400,"y":1340},{"l":11,"p":22,"x":340,"y":1280},{"l":11,"p":22,"x":325,"y":1310},{"l":11,"p":22,"x":390,"y":1370},{"l":11,"p":22,"x":440,"y":1375},{"l":11,"p":22,"x":420,"y":1400},{"l":11,"p":22,"x":420,"y":1440},{"l":11,"p":22,"x":390,"y":1450},{"l":11,"p":22,"x":300,"y":1430},{"l":11,"p":22,"x":240,"y":1440},{"l":11,"p":22,"x":160,"y":1430},{"l":11,"p":22,"x":100,"y":1450},{"l":11,"p":22,"x":31,"y":1430},{"l":11,"p":22,"x":31,"y":1480},{"l":11,"p":22,"x":100,"y":1470},{"l":11,"p":22,"x":190,"y":1485},{"l":11,"p":22,"x":280,"y":1490},{"l":11,"p":22,"x":315,"y":1527},{"l":11,"p":22,"x":340,"y":1495},{"l":11,"p":22,"x":370,"y":1540},{"l":11,"p":22,"x":1540,"y":1540},{"l":11,"p":22,"x":1540,"y":37},
{"l":11,"p":23,"x":125,"y":100},{"l":11,"p":23,"x":210,"y":85},{"l":11,"p":23,"x":220,"y":100},{"l":11,"p":23,"x":335,"y":55},{"l":11,"p":23,"x":350,"y":75},{"l":11,"p":23,"x":285,"y":115},{"l":11,"p":23,"x":180,"y":125},{"l":11,"p":23,"x":125,"y":125},
{"l":11,"p":24,"x":50,"y":120},{"l":11,"p":24,"x":80,"y":105},{"l":11,"p":24,"x":60,"y":135},
{"l":10,"p":25,"x":525,"y":37},{"l":10,"p":25,"x":520,"y":100},{"l":10,"p":25,"x":585,"y":90},{"l":10,"p":25,"x":560,"y":160},{"l":10,"p":25,"x":460,"y":190},{"l":10,"p":25,"x":470,"y":250},{"l":10,"p":25,"x":525,"y":230},{"l":10,"p":25,"x":490,"y":320},{"l":10,"p":25,"x":470,"y":400},{"l":10,"p":25,"x":410,"y":480},{"l":10,"p":25,"x":395,"y":580},{"l":10,"p":25,"x":375,"y":720},{"l":10,"p":25,"x":380,"y":860},{"l":10,"p":25,"x":400,"y":1060},{"l":10,"p":25,"x":440,"y":1010},{"l":10,"p":25,"x":450,"y":1100},{"l":10,"p":25,"x":490,"y":1220},{"l":10,"p":25,"x":530,"y":1320},{"l":10,"p":25,"x":505,"y":1385},{"l":10,"p":25,"x":520,"y":1410},{"l":10,"p":25,"x":550,"y":1455},{"l":10,"p":25,"x":575,"y":1540},{"l":10,"p":25,"x":1540,"y":1540},{"l":10,"p":25,"x":1540,"y":37},
{"l":9,"p":26,"x":700,"y":37},{"l":9,"p":26,"x":695,"y":90},{"l":9,"p":26,"x":650,"y":150},{"l":9,"p":26,"x":625,"y":180},{"l":9,"p":26,"x":575,"y":185},{"l":9,"p":26,"x":560,"y":230},{"l":9,"p":26,"x":615,"y":195},{"l":9,"p":26,"x":630,"y":240},{"l":9,"p":26,"x":580,"y":310},{"l":9,"p":26,"x":550,"y":340},{"l":9,"p":26,"x":550,"y":380},{"l":9,"p":26,"x":510,"y":460},{"l":9,"p":26,"x":530,"y":560},{"l":9,"p":26,"x":520,"y":640},{"l":9,"p":26,"x":500,"y":660},{"l":9,"p":26,"x":540,"y":720},{"l":9,"p":26,"x":510,"y":820},{"l":9,"p":26,"x":500,"y":880},{"l":9,"p":26,"x":520,"y":960},{"l":9,"p":26,"x":520,"y":1080},{"l":9,"p":26,"x":540,"y":1180},{"l":9,"p":26,"x":580,"y":1250},{"l":9,"p":26,"x":630,"y":1330},{"l":9,"p":26,"x":610,"y":1400},{"l":9,"p":26,"x":680,"y":1470},{"l":9,"p":26,"x":707,"y":1540},{"l":9,"p":26,"x":1540,"y":1540},{"l":9,"p":26,"x":1540,"y":37},
{"l":8,"p":27,"x":835,"y":37},{"l":8,"p":27,"x":830,"y":90},{"l":8,"p":27,"x":780,"y":120},{"l":8,"p":27,"x":725,"y":180},{"l":8,"p":27,"x":720,"y":210},{"l":8,"p":27,"x":650,"y":280},{"l":8,"p":27,"x":640,"y":320},{"l":8,"p":27,"x":655,"y":345},{"l":8,"p":27,"x":610,"y":420},{"l":8,"p":27,"x":595,"y":500},{"l":8,"p":27,"x":590,"y":560},{"l":8,"p":27,"x":600,"y":650},{"l":8,"p":27,"x":590,"y":770},{"l":8,"p":27,"x":620,"y":880},{"l":8,"p":27,"x":600,"y":960},{"l":8,"p":27,"x":630,"y":1100},{"l":8,"p":27,"x":650,"y":1210},{"l":8,"p":27,"x":690,"y":1300},{"l":8,"p":27,"x":720,"y":1360},{"l":8,"p":27,"x":830,"y":1450},{"l":8,"p":27,"x":853,"y":1540},{"l":8,"p":27,"x":1540,"y":1540},{"l":8,"p":27,"x":1540,"y":37},
{"l":7,"p":28,"x":965,"y":37},{"l":7,"p":28,"x":950,"y":85},{"l":7,"p":28,"x":890,"y":100},{"l":7,"p":28,"x":900,"y":130},{"l":7,"p":28,"x":825,"y":160},{"l":7,"p":28,"x":800,"y":225},{"l":7,"p":28,"x":720,"y":290},{"l":7,"p":28,"x":710,"y":320},{"l":7,"p":28,"x":745,"y":320},{"l":7,"p":28,"x":700,"y":420},{"l":7,"p":28,"x":672,"y":570},{"l":7,"p":28,"x":685,"y":680},{"l":7,"p":28,"x":675,"y":800},{"l":7,"p":28,"x":690,"y":920},{"l":7,"p":28,"x":680,"y":1000},{"l":7,"p":28,"x":720,"y":1160},{"l":7,"p":28,"x":730,"y":1270},{"l":7,"p":28,"x":810,"y":1400},{"l":7,"p":28,"x":860,"y":1430},{"l":7,"p":28,"x":945,"y":1540},{"l":7,"p":28,"x":1540,"y":1540},{"l":7,"p":28,"x":1540,"y":37},
{"l":8,"p":29,"x":830,"y":210},{"l":8,"p":29,"x":850,"y":180},{"l":8,"p":29,"x":870,"y":205},{"l":8,"p":29,"x":850,"y":220},
{"l":6,"p":30,"x":1060,"y":37},{"l":6,"p":30,"x":1020,"y":90},{"l":6,"p":30,"x":985,"y":120},{"l":6,"p":30,"x":960,"y":150},{"l":6,"p":30,"x":905,"y":180},{"l":6,"p":30,"x":890,"y":235},{"l":6,"p":30,"x":860,"y":270},{"l":6,"p":30,"x":840,"y":310},{"l":6,"p":30,"x":810,"y":420},{"l":6,"p":30,"x":750,"y":545},{"l":6,"p":30,"x":775,"y":545},{"l":6,"p":30,"x":745,"y":680},{"l":6,"p":30,"x":755,"y":780},{"l":6,"p":30,"x":740,"y":850},{"l":6,"p":30,"x":770,"y":940},{"l":6,"p":30,"x":760,"y":1050},{"l":6,"p":30,"x":775,"y":1100},{"l":6,"p":30,"x":800,"y":1210},{"l":6,"p":30,"x":830,"y":1270},{"l":6,"p":30,"x":880,"y":1350},{"l":6,"p":30,"x":950,"y":1410},{"l":6,"p":30,"x":975,"y":1410},{"l":6,"p":30,"x":945,"y":1440},{"l":6,"p":30,"x":1000,"y":1480},{"l":6,"p":30,"x":1120,"y":1540},{"l":6,"p":30,"x":1540,"y":1540},{"l":6,"p":30,"x":1540,"y":37},
{"l":5,"p":31,"x":1040,"y":140},{"l":5,"p":31,"x":1100,"y":115},{"l":5,"p":31,"x":1190,"y":90},{"l":5,"p":31,"x":1260,"y":100},{"l":5,"p":31,"x":1340,"y":90},{"l":5,"p":31,"x":1420,"y":85},{"l":5,"p":31,"x":1530,"y":105},{"l":5,"p":31,"x":1530,"y":1445},{"l":5,"p":31,"x":1390,"y":1470},{"l":5,"p":31,"x":1300,"y":1480},{"l":5,"p":31,"x":1220,"y":1450},{"l":5,"p":31,"x":1130,"y":1430},{"l":5,"p":31,"x":1060,"y":1370},{"l":5,"p":31,"x":1000,"y":1310},{"l":5,"p":31,"x":950,"y":1280},{"l":5,"p":31,"x":880,"y":1180},{"l":5,"p":31,"x":865,"y":1100},{"l":5,"p":31,"x":825,"y":1000},{"l":5,"p":31,"x":840,"y":900},{"l":5,"p":31,"x":820,"y":800},{"l":5,"p":31,"x":835,"y":680},{"l":5,"p":31,"x":860,"y":600},{"l":5,"p":31,"x":885,"y":470},{"l":5,"p":31,"x":885,"y":420},{"l":5,"p":31,"x":915,"y":390},{"l":5,"p":31,"x":905,"y":370},{"l":5,"p":31,"x":965,"y":330},{"l":5,"p":31,"x":935,"y":290},{"l":5,"p":31,"x":950,"y":260},{"l":5,"p":31,"x":1000,"y":230},{"l":5,"p":31,"x":1030,"y":170},
{"l":4,"p":32,"x":1150,"y":205},{"l":4,"p":32,"x":1200,"y":175},{"l":4,"p":32,"x":1290,"y":165},{"l":4,"p":32,"x":1390,"y":160},{"l":4,"p":32,"x":1420,"y":185},{"l":4,"p":32,"x":1530,"y":190},{"l":4,"p":32,"x":1530,"y":1340},{"l":4,"p":32,"x":1480,"y":1350},{"l":4,"p":32,"x":1450,"y":1390},{"l":4,"p":32,"x":1380,"y":1380},{"l":4,"p":32,"x":1300,"y":1385},{"l":4,"p":32,"x":1220,"y":1390},{"l":4,"p":32,"x":1170,"y":1340},{"l":4,"p":32,"x":1060,"y":1300},{"l":4,"p":32,"x":1000,"y":1240},{"l":4,"p":32,"x":960,"y":1150},{"l":4,"p":32,"x":900,"y":930},{"l":4,"p":32,"x":905,"y":780},{"l":4,"p":32,"x":915,"y":700},{"l":4,"p":32,"x":930,"y":530},{"l":4,"p":32,"x":990,"y":440},{"l":4,"p":32,"x":1035,"y":350},{"l":4,"p":32,"x":1010,"y":320},{"l":4,"p":32,"x":1055,"y":290},{"l":4,"p":32,"x":1070,"y":255},{"l":4,"p":32,"x":1140,"y":245},
{"l":3,"p":33,"x":1070,"y":270},{"l":3,"p":33,"x":1160,"y":270},{"l":3,"p":33,"x":1290,"y":260},{"l":3,"p":33,"x":1420,"y":265},{"l":3,"p":33,"x":1530,"y":335},{"l":3,"p":33,"x":1530,"y":1230},{"l":3,"p":33,"x":1470,"y":1250},{"l":3,"p":33,"x":1380,"y":1260},{"l":3,"p":33,"x":1280,"y":1280},{"l":3,"p":33,"x":1180,"y":1265},{"l":3,"p":33,"x":1130,"y":1220},{"l":3,"p":33,"x":1070,"y":1130},{"l":3,"p":33,"x":1000,"y":1060},{"l":3,"p":33,"x":960,"y":900},{"l":3,"p":33,"x":965,"y":700},{"l":3,"p":33,"x":1000,"y":570},{"l":3,"p":33,"x":1060,"y":470},{"l":3,"p":33,"x":1110,"y":400},{"l":3,"p":33,"x":1130,"y":340},{"l":3,"p":33,"x":1100,"y":300},
{"l":2,"p":34,"x":1190,"y":420},{"l":2,"p":34,"x":1280,"y":385},{"l":2,"p":34,"x":1300,"y":390},{"l":2,"p":34,"x":1260,"y":410},{"l":2,"p":34,"x":1290,"y":415},{"l":2,"p":34,"x":1360,"y":385},{"l":2,"p":34,"x":1450,"y":400},{"l":2,"p":34,"x":1530,"y":437},{"l":2,"p":34,"x":1530,"y":1085},{"l":2,"p":34,"x":1505,"y":1110},{"l":2,"p":34,"x":1460,"y":1120},{"l":2,"p":34,"x":1420,"y":1150},{"l":2,"p":34,"x":1390,"y":1180},{"l":2,"p":34,"x":1350,"y":1180},{"l":2,"p":34,"x":1310,"y":1150},{"l":2,"p":34,"x":1240,"y":1160},{"l":2,"p":34,"x":1180,"y":1120},{"l":2,"p":34,"x":1120,"y":1060},{"l":2,"p":34,"x":1090,"y":1000},{"l":2,"p":34,"x":1050,"y":900},{"l":2,"p":34,"x":1025,"y":780},{"l":2,"p":34,"x":1040,"y":680},{"l":2,"p":34,"x":1075,"y":570},{"l":2,"p":34,"x":1130,"y":510},{"l":2,"p":34,"x":1180,"y":450},
{"l":1,"p":35,"x":1270,"y":510},{"l":1,"p":35,"x":1350,"y":490},{"l":1,"p":35,"x":1430,"y":510},{"l":1,"p":35,"x":1480,"y":550},{"l":1,"p":35,"x":1530,"y":580},{"l":1,"p":35,"x":1530,"y":975},{"l":1,"p":35,"x":1470,"y":1020},{"l":1,"p":35,"x":1430,"y":1050},{"l":1,"p":35,"x":1360,"y":1060},{"l":1,"p":35,"x":1300,"y":1065},{"l":1,"p":35,"x":1240,"y":1050},{"l":1,"p":35,"x":1200,"y":1000},{"l":1,"p":35,"x":1140,"y":920},{"l":1,"p":35,"x":1110,"y":870},{"l":1,"p":35,"x":1100,"y":730},{"l":1,"p":35,"x":1130,"y":640},{"l":1,"p":35,"x":1180,"y":560},{"l":1,"p":35,"x":1230,"y":535},
{"l":0,"p":36,"x":1250,"y":625},{"l":0,"p":36,"x":1340,"y":600},{"l":0,"p":36,"x":1440,"y":635},{"l":0,"p":36,"x":1480,"y":680},{"l":0,"p":36,"x":1492,"y":770},{"l":0,"p":36,"x":1480,"y":860},{"l":0,"p":36,"x":1440,"y":930},{"l":0,"p":36,"x":1380,"y":950},{"l":0,"p":36,"x":1320,"y":965},{"l":0,"p":36,"x":1260,"y":940},{"l":0,"p":36,"x":1210,"y":880},{"l":0,"p":36,"x":1185,"y":800},{"l":0,"p":36,"x":1195,"y":680},{"l":0,"p":36,"x":1230,"y":640}
]},
"hconcat":[
{"width":355,"height":683,"layer":[
{"data":{"values":[{"a":0,"c":355,"t":3.95,"u":-30.68}]},"mark":{"type":"rect","fill":null,"stroke":"#222","strokeWidth":3,"clip":false},"encoding":{"x":{"field":"a","type":"quantitative","scale":{"domain":[0,355],"nice":false,"zero":false},"axis":null},"x2":{"field":"c"},"y":{"field":"t","type":"quantitative","scale":{"domain":[-25.67,0.27],"nice":false,"zero":false},"axis":null},"y2":{"field":"u"}}},
{"data":{"name":"legendBands"},"mark":{"type":"rect"},"encoding":{"x":{"field":"a","type":"quantitative","scale":{"domain":[0,355],"nice":false,"zero":false},"axis":null},"x2":{"field":"c"},"y":{"field":"t","type":"quantitative","scale":{"domain":[-25.67,0.27],"nice":false,"zero":false},"axis":null},"y2":{"field":"u"},"color":{"field":"b","type":"ordinal","legend":null,"scale":{"domain":[0,1,2,3,4,5,6,7,8,9,10,11,12,13,14],"range":["#ff0000","#ff5000","#ff9000","#ffdd00","#ddff00","#99ff00","#55ff00","#00ff00","#00ff55","#00ff88","#00ffdd","#00ddff","#0090ff","#0044ff","#0000ff"]}}}},
{"data":{"name":"legendLabels"},"mark":{"type":"text","font":"Liberation Serif","fontSize":58,"align":"left","baseline":"middle"},"encoding":{"x":{"field":"x","type":"quantitative","scale":{"domain":[0,355],"nice":false,"zero":false},"axis":null},"y":{"field":"y","type":"quantitative","scale":{"domain":[-25.67,0.27],"nice":false,"zero":false},"axis":null},"text":{"field":"s"}}},
{"data":{"values":[{"s":"dB (E Field)","x":177,"y":1.4}]},"mark":{"type":"text","font":"Liberation Serif","fontSize":63,"baseline":"alphabetic"},"encoding":{"x":{"field":"x","type":"quantitative","scale":{"domain":[0,355],"nice":false,"zero":false},"axis":null},"y":{"field":"y","type":"quantitative","scale":{"domain":[-25.67,0.27],"nice":false,"zero":false},"axis":null},"text":{"field":"s"}}}
]},
{"hconcat":[
{"width":682,"height":682,"view":{"stroke":"#5a6a8a","strokeWidth":2},"data":{"name":"a"},"mark":{"type":"line","interpolate":"cardinal-closed","tension":0.3,"clip":true,"strokeWidth":0},"encoding":{"x":{"field":"x","type":"quantitative","scale":{"domain":[40,1522],"nice":false,"zero":false},"axis":{"title":"(a)","titleFont":"Liberation Serif","titleFontSize":72,"titleFontWeight":"normal","titleColor":"black","titleX":339,"labels":false,"ticks":false,"domain":false,"grid":false,"titlePadding":50}},"y":{"field":"y","type":"quantitative","scale":{"domain":[1527,47],"nice":false,"zero":false},"axis":null},"detail":{"field":"p"},"order":{"value":null},"fill":{"field":"l","type":"ordinal","legend":null,"scale":{"domain":[0,1,2,3,4,5,6,7,8,9,10,11,12,13,14],"range":["#ff0000","#ff5500","#ffa000","#ffee00","#eeff00","#99ff00","#55ff00","#00ff00","#00ff4d","#00ff99","#00ffee","#00ddff","#0099ff","#0055ff","#0000ff"]}}}},
{"width":682,"height":682,"view":{"stroke":"#5a6a8a","strokeWidth":2},"data":{"name":"b"},"mark":{"type":"line","interpolate":"cardinal-closed","tension":0.3,"clip":true,"strokeWidth":0},"encoding":{"x":{"field":"x","type":"quantitative","scale":{"domain":[37,1519],"nice":false,"zero":false},"axis":{"title":"(b)","titleFont":"Liberation Serif","titleFontSize":72,"titleFontWeight":"normal","titleColor":"black","titleX":340,"labels":false,"ticks":false,"domain":false,"grid":false,"titlePadding":50}},"y":{"field":"y","type":"quantitative","scale":{"domain":[1527,47],"nice":false,"zero":false},"axis":null},"detail":{"field":"p"},"order":{"value":null},"fill":{"field":"l","type":"ordinal","legend":null,"scale":{"domain":[0,1,2,3,4,5,6,7,8,9,10,11,12,13,14],"range":["#ff0000","#ff5500","#ffa000","#ffee00","#eeff00","#99ff00","#55ff00","#00ff00","#00ff4d","#00ff99","#00ffee","#00ddff","#0099ff","#0055ff","#0000ff"]}}}},
{"width":680,"height":682,"view":{"stroke":"#5a6a8a","strokeWidth":2},"data":{"name":"c"},"mark":{"type":"line","interpolate":"cardinal-closed","tension":0.3,"clip":true,"strokeWidth":0},"encoding":{"x":{"field":"x","type":"quantitative","scale":{"domain":[41,1515],"nice":false,"zero":false},"axis":{"title":"(c)","titleFont":"Liberation Serif","titleFontSize":72,"titleFontWeight":"normal","titleColor":"black","titleX":349,"labels":false,"ticks":false,"domain":false,"grid":false,"titlePadding":50}},"y":{"field":"y","type":"quantitative","scale":{"domain":[1527,47],"nice":false,"zero":false},"axis":null},"detail":{"field":"p"},"order":{"value":null},"fill":{"field":"l","type":"ordinal","legend":null,"scale":{"domain":[0,1,2,3,4,5,6,7,8,9,10,11,12,13,14],"range":["#ff0000","#ff5500","#ffa000","#ffee00","#eeff00","#99ff00","#55ff00","#00ff00","#00ff4d","#00ff99","#00ffee","#00ddff","#0099ff","#0055ff","#0000ff"]}}}}
]}
]}
